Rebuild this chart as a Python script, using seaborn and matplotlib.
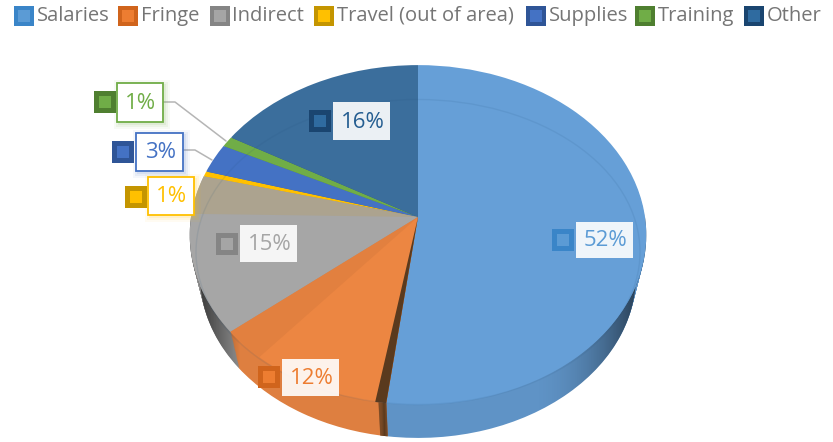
import numpy as np
import pandas as pd
import matplotlib
matplotlib.use('Agg')
import matplotlib.pyplot as plt
import seaborn as sns
from matplotlib.patches import Rectangle, Ellipse, PathPatch
from matplotlib.path import Path
from matplotlib.transforms import Transform, Affine2D

# DATA
categories = ['Salaries', 'Fringe', 'Indirect', 'Travel (out of area)', 'Supplies', 'Training', 'Other']
shares = [52, 12, 15, 0.5, 2.8, 1.0, 16.7]  # read from the slice edges
share_labels = ['52%', '12%', '15%', '1%', '3%', '1%', '16%']

# COLOURS
top_colors = ['#669FD7', '#EC8642', '#A6A6A6', '#FFC000', '#4472C4', '#70AD47', '#3B6E9C']
rim_colors = ['#5F93C6', '#DE7F40', '#8E8E8E', '#C99A00', '#365C9E', '#5A8A3A', '#2E5878']
legend_outer = ['#3A85C8', '#D0641C', '#858585', '#C49500', '#2F5597', '#4F7F30', '#1A4570']
legend_inner = ['#5B9BD5', '#ED7D31', '#A5A5A5', '#FFC000', '#4472C4', '#70AD47', '#2F6BA0']
label_text = ['#5B9BD5', '#ED7D31', '#A5A5A5', '#FFC000', '#4472C4', '#70AD47', '#255E91']

# LAYOUT (pixels of the 833x442 picture)
W, H = 833, 442
CX, CY, RX, RY, K = 418, 217, 227, 168, 0.106
DEPTH = 33
BOTTOM_SCALE = 0.955
legend_marker_x = [24, 128, 220, 324, 536, 645, 754]
legend_text_x = [37, 141, 232, 337, 549, 658, 767]
LEGEND_Y = 16
boxes = [(576, 222, 57, 36), (282, 359, 57, 37), (240, 225, 57, 37), (148, 177, 46, 38),
         (136, 133, 47, 38), (117, 83, 46, 39), (333, 102, 57, 38)]
markers_xy = [(563, 240), (269, 377), (227, 244), (136, 197), (123, 152), (105, 102), (320, 121)]
outlined = [3, 4, 5]
leaders = [([163, 175, 226], [102, 102, 141]), ([183, 195, 212], [150, 150, 160])]


class Perspective(Transform):
    # tilted disc: unit pie -> picture pixels, y up
    input_dims = 2
    output_dims = 2

    def transform_non_affine(self, values):
        values = np.asarray(values, dtype=float)
        w = 1 + K * values[:, 1]
        return np.column_stack([CX + RX * values[:, 0] / w, (H - CY) + RY * values[:, 1] / w])


def sink(drop):
    # lower slices of the disc are a bit smaller and sit lower
    s = 1 - (1 - BOTTOM_SCALE) * drop / DEPTH
    shift = drop + (RY / (1 - K)) * (1 - s)
    return Affine2D().translate(-CX, -(H - CY)).scale(s).translate(CX, H - CY - shift)


sns.set_theme(style='white')
plt.rcParams['font.family'] = ['Open Sans', 'DejaVu Sans']

fig = plt.figure(figsize=(W / 100, H / 100), dpi=100)
ax = fig.add_axes([0, 0, 1, 1])
persp = Perspective()


def draw_pie(sizes, colors, drop=0, z=2):
    wedges, _ = ax.pie(sizes, colors=colors, startangle=90, counterclock=False,
                       wedgeprops={'linewidth': 0})
    for wedge in wedges:
        wedge.set_transform(persp + sink(drop) + ax.transData)
        wedge.set_zorder(z)
        wedge.set_clip_on(False)
    return wedges


# rim, stacked from the bottom up
for drop in range(DEPTH, 0, -1):
    draw_pie(shares, rim_colors, drop, z=2)
    draw_pie([52, 0.5, 47.5], ['none', '#5A3A1E', 'none'], drop, z=2)

# darkening toward the sides of the rim
shade = np.zeros((1, W, 4))
xs = np.arange(W)
shade[0, :, 3] = np.clip((240 - xs) / 45, 0, 1) * 0.65 + np.clip((xs - 530) / 105, 0, 1) ** 2 * 0.55
theta = np.linspace(np.pi, 2 * np.pi, 200)
edge = persp.transform(np.column_stack([np.cos(theta), np.sin(theta)]))
rim_outline = Path(np.vstack([edge, sink(DEPTH).transform(edge)[::-1], edge[:1]]))
img = ax.imshow(shade, extent=(0, W, 0, H), aspect='auto', zorder=3)
img.set_clip_path(PathPatch(rim_outline, transform=ax.transData))

# top face
draw_pie(shares, top_colors, z=4)
# cut faces and reflections on the top face
draw_pie([52, 0.7, 47.3], ['none', '#5A3A1E', 'none'], z=5)
draw_pie([61.1, 2.9, 36], ['none', '#E2803F', 'none'], z=5)
draw_pie([75.3, 3.7, 21], ['none', '#ACA38F', 'none'], z=5)

ax.set_aspect('auto')
ax.set_xlim(0, W)
ax.set_ylim(0, H)
ax.axis('off')

# faint bevel ring
ax.add_patch(Ellipse((CX, H - 252), 444, 305, fill=False, edgecolor='#1F4E79', alpha=0.1, lw=1, zorder=6))

# leader lines
for lx, ly in leaders:
    ax.plot(lx, [H - v for v in ly], color='#B5B5B5', lw=1.1, zorder=6)

# data labels
for i, (x, y, w, h) in enumerate(boxes):
    if i in outlined:
        for grow, a in [(5, 0.05), (3, 0.08), (1, 0.1)]:
            ax.add_patch(Rectangle((x - grow + 2, H - y - h - grow - 2), w + 2 * grow, h + 2 * grow,
                                   facecolor=label_text[i], edgecolor='none', alpha=a, zorder=6))
        ax.add_patch(Rectangle((x, H - y - h), w, h, facecolor='white', edgecolor=label_text[i], lw=1.3, zorder=7))
    else:
        ax.add_patch(Rectangle((x, H - y - h), w, h, facecolor='white', edgecolor='none', alpha=0.9, zorder=7))
    ax.text(x + w / 2 + 1, H - y - h / 2 - 1, share_labels[i], color=label_text[i], fontsize=16,
            ha='center', va='center', zorder=8)

# square markers, legend row first then the data labels
marks = pd.DataFrame({
    'name': categories * 2,
    'x': legend_marker_x + [m[0] for m in markers_xy],
    'y': [H - LEGEND_Y] * 7 + [H - m[1] for m in markers_xy],
})
for palette, scale, z in [(legend_outer, 1.0, 9), (legend_inner, 0.28, 10)]:
    sub = marks.iloc[:7]
    sns.scatterplot(data=sub, x='x', y='y', hue='name', palette=palette, marker='s', s=210 * (0.35 if scale < 1 else 1),
                    linewidth=0, legend=False, zorder=z, ax=ax, clip_on=False)
    sub = marks.iloc[7:]
    sns.scatterplot(data=sub, x='x', y='y', hue='name', palette=palette, marker='s', s=270 * scale,
                    linewidth=0, legend=False, zorder=z, ax=ax, clip_on=False)

# legend text
for name, x in zip(categories, legend_text_x):
    ax.text(x, H - LEGEND_Y, name, color='#757575', fontsize=14.5, ha='left', va='center', zorder=9)

ax.set_xlim(0, W)
ax.set_ylim(0, H)
fig.savefig('out.png', dpi=100)
